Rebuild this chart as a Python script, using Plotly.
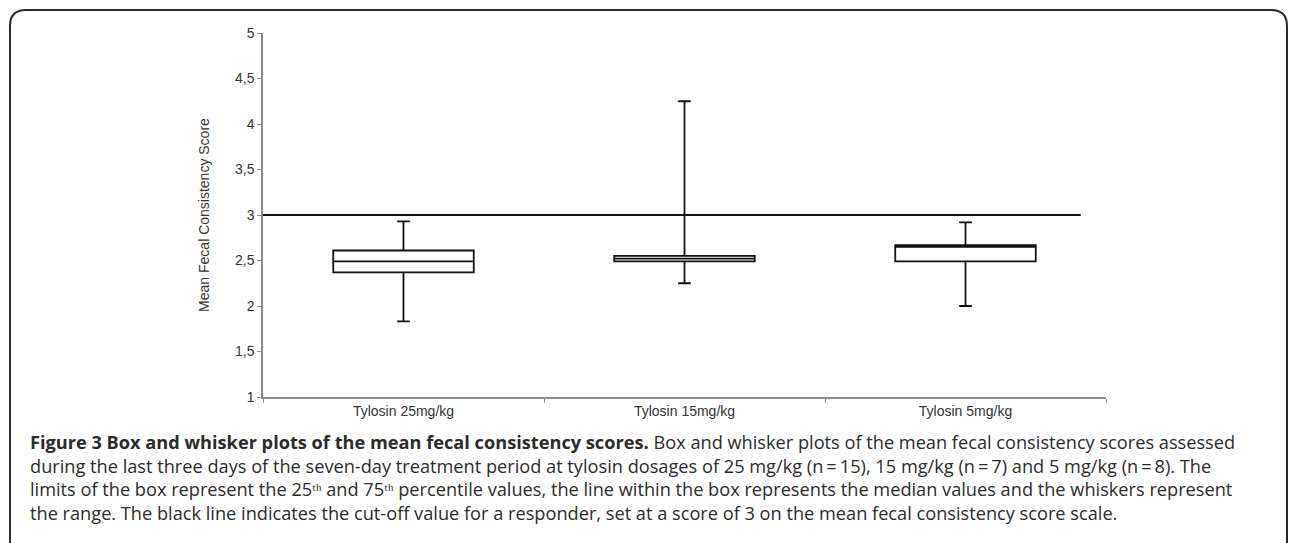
import plotly.graph_objects as go

# ---- data ----
categories = ["Tylosin 25mg/kg", "Tylosin 15mg/kg", "Tylosin 5mg/kg"]
minimum = [1.83, 2.25, 2.00]
q1 = [2.37, 2.49, 2.49]
median = [2.49, 2.52, 2.65]
q3 = [2.61, 2.55, 2.67]
maximum = [2.93, 4.25, 2.92]
cutoff = 3
cutoff_x_end = 2.41  # line ends before the last category boundary
ytick_vals = [1, 1.5, 2, 2.5, 3, 3.5, 4, 4.5, 5]
ytick_text = ["1", "1,5", "2", "2,5", "3", "3,5", "4", "4,5", "5"]

caption_lines = [
    "<b>Figure 3 Box and whisker plots of the mean fecal consistency scores.</b> Box and whisker plots of the mean fecal consistency scores assessed",
    "during the last three days of the seven-day treatment period at tylosin dosages of 25 mg/kg (n\u2009=\u200915), 15 mg/kg (n\u2009=\u20097) and 5 mg/kg (n\u2009=\u20098). The",
    "limits of the box represent the 25\u1d57\u02b0 and 75\u1d57\u02b0 percentile values, the line within the box represents the median values and the whiskers represent",
    "the range. The black line indicates the cut-off value for a responder, set at a score of 3 on the mean fecal consistency score scale.",
]

# ---- layout geometry ----
W, H = 1290, 543
L, R, T, B = 263, 184, 33, 146
PW, PH = W - L - R, H - T - B


def px(xp):
    return (xp - L) / PW


def py(yp):
    return (H - B - yp) / PH


fig = go.Figure()
fig.add_trace(go.Box(
    x=categories,
    q1=q1, median=median, q3=q3,
    lowerfence=minimum, upperfence=maximum,
    width=0.5,
    whiskerwidth=0.09,
    fillcolor="white",
    line=dict(color="#111111", width=1.8),
    boxpoints=False,
    showlegend=False,
    hoverinfo="skip",
))

fig.add_shape(type="line", xref="x", yref="y", x0=-0.5, x1=cutoff_x_end,
              y0=cutoff, y1=cutoff, line=dict(color="#111111", width=1.8))

# rounded frame (open at bottom)
x0, y0, x1, ybot = px(10), py(10), px(1287), py(560)
rx, ry = 16 / PW, 16 / PH
path = (f"M {x0},{ybot} L {x0},{y0 - ry} Q {x0},{y0} {x0 + rx},{y0} "
        f"L {x1 - rx},{y0} Q {x1},{y0} {x1},{y0 - ry} L {x1},{ybot}")
fig.add_shape(type="path", xref="paper", yref="paper", path=path,
              line=dict(color="#2a2a2a", width=2))

fig.add_annotation(xref="paper", yref="paper", x=px(28), y=py(428),
                   xanchor="left", yanchor="top", showarrow=False,
                   text="<br>".join(caption_lines), align="left",
                   font=dict(family="Open Sans", size=18.2, color="#2b2b2b"))

fig.update_layout(
    width=W, height=H,
    margin=dict(l=L, r=R, t=T, b=B),
    paper_bgcolor="white", plot_bgcolor="white",
    font=dict(family="Liberation Sans, Arial", color="#333333"),
    xaxis=dict(
        type="category", range=[-0.5, 2.5],
        showline=True, linecolor="#8c8c8c", linewidth=1.5,
        ticks="outside", ticklen=4, tickcolor="#8c8c8c", tickson="boundaries",
        showgrid=False, zeroline=False,
        tickfont=dict(size=14, color="#333333"),
    ),
    yaxis=dict(
        range=[1, 5], tickvals=ytick_vals, ticktext=ytick_text,
        showline=True, linecolor="#8c8c8c", linewidth=1.5,
        ticks="outside", ticklen=4, tickcolor="#8c8c8c",
        showgrid=False, zeroline=False,
        tickfont=dict(size=14, color="#333333"),
        title=dict(text="Mean Fecal Consistency Score", standoff=22,
                   font=dict(size=14, color="#333333")),
    ),
)

fig.write_html("out.html", config={"displayModeBar": False},
               post_script="document.body.style.margin='0';")
